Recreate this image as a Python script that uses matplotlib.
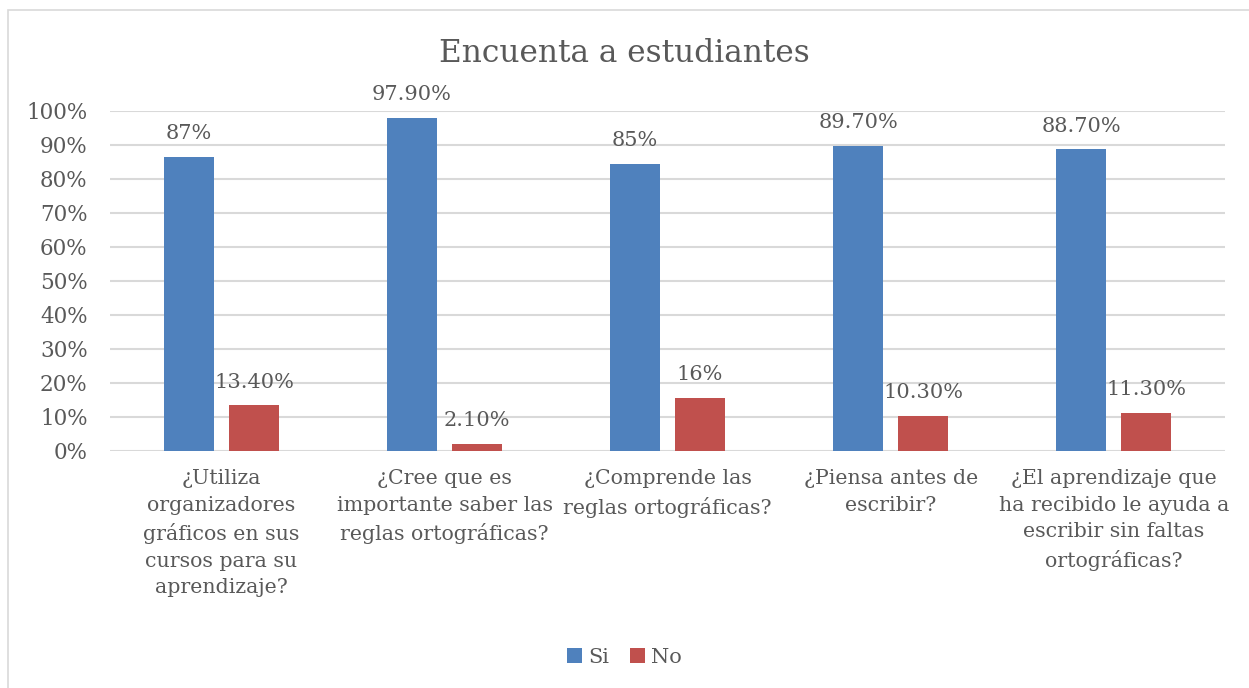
import matplotlib.pyplot as plt
import numpy as np
from matplotlib.patches import Rectangle

# survey data
preguntas = [
    "¿Utiliza\norganizadores\ngráficos en sus\ncursos para su\naprendizaje?",
    "¿Cree que es\nimportante saber las\nreglas ortográficas?",
    "¿Comprende las\nreglas ortográficas?",
    "¿Piensa antes de\nescribir?",
    "¿El aprendizaje que\nha recibido le ayuda a\nescribir sin faltas\nortográficas?",
]
si = [0.866, 0.979, 0.845, 0.897, 0.887]
no = [0.134, 0.021, 0.155, 0.103, 0.113]
si_labels = ["87%", "97.90%", "85%", "89.70%", "88.70%"]
no_labels = ["13.40%", "2.10%", "16%", "10.30%", "11.30%"]

plt.rcParams["font.family"] = ["DejaVu Serif"]
gray = "#595959"

fig = plt.figure(figsize=(12.49, 6.88), dpi=100)
ax = fig.add_axes([0.088, 0.3445, 0.893, 0.4942])

# chart border
fig.patches.append(Rectangle((8 / 1249, -0.1), 1.2, 1 - 10 / 688 + 0.1,
                             transform=fig.transFigure, fill=False,
                             edgecolor="#d9d9d9", linewidth=1.2))

x = np.arange(len(preguntas))
w = 0.224
off = 0.1455
b1 = ax.bar(x - off, si, w, color="#4F81BD", label="Si", zorder=3)
b2 = ax.bar(x + off, no, w, color="#C0504D", label="No", zorder=3)

for bars, labs in ((b1, si_labels), (b2, no_labels)):
    for r, t in zip(bars, labs):
        ax.annotate(t, (r.get_x() + r.get_width() / 2, r.get_height()),
                    xytext=(0, 10), textcoords="offset points",
                    ha="center", va="bottom", fontsize=15, color=gray)

ax.set_xlim(-0.5, len(preguntas) - 0.5)
ax.set_ylim(0, 1)
ax.set_yticks(np.arange(0, 1.01, 0.1))
ax.set_yticklabels([f"{int(round(v * 100))}%" for v in np.arange(0, 1.01, 0.1)],
                   fontsize=15.5, color=gray)
ax.set_xticks(x)
ax.set_xticklabels(preguntas, fontsize=14.8, color=gray, linespacing=1.5, va="top")
ax.tick_params(axis="both", length=0)
ax.tick_params(axis="x", pad=13)
ax.tick_params(axis="y", pad=16)
ax.grid(axis="y", color="#d9d9d9", linewidth=1.5, zorder=0)
for s in ax.spines.values():
    s.set_visible(False)

fig.suptitle("Encuenta a estudiantes", y=0.945, fontsize=22.5, color=gray)
fig.legend(loc="center", bbox_to_anchor=(0.5, 0.045), ncol=2, frameon=False,
           fontsize=15, labelcolor=gray, handlelength=0.7, handleheight=0.7,
           handletextpad=0.3, columnspacing=1.0)

fig.savefig("out.png", dpi=100)
